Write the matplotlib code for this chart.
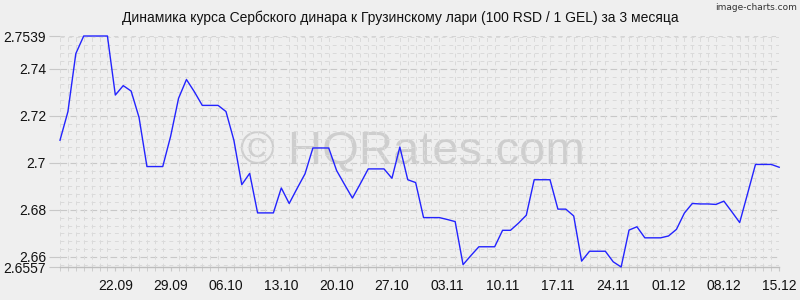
import matplotlib
matplotlib.use("Agg")
import matplotlib.pyplot as plt
import matplotlib.dates as mdates
from matplotlib.ticker import MultipleLocator
import pandas as pd

title = "Динамика курса Сербского динара к Грузинскому лари (100 RSD / 1 GEL) за 3 месяца"
start_date = "2025-09-15"
end_date = "2025-12-15"
rates = [
    2.7096, 2.7217, 2.7464, 2.7539, 2.7539, 2.7539, 2.7539, 2.7288, 2.7328, 2.7305,
    2.7193, 2.6984, 2.6984, 2.6984, 2.7113, 2.7274, 2.7354, 2.7302, 2.7244, 2.7244,
    2.7244, 2.7218, 2.7096, 2.6907, 2.6955, 2.6787, 2.6787, 2.6787, 2.6893, 2.6827,
    2.6891, 2.6953, 2.7063, 2.7063, 2.7063, 2.6967, 2.6908, 2.6850, 2.6911, 2.6974,
    2.6974, 2.6974, 2.6934, 2.7067, 2.6928, 2.6916, 2.6767, 2.6767, 2.6767, 2.6759,
    2.6750, 2.6567, 2.6606, 2.6643, 2.6643, 2.6643, 2.6713, 2.6713, 2.6743, 2.6777,
    2.6928, 2.6928, 2.6928, 2.6803, 2.6803, 2.6774, 2.6582, 2.6624, 2.6624, 2.6624,
    2.6579, 2.6557, 2.6714, 2.6728, 2.6681, 2.6681, 2.6681, 2.6689, 2.6717, 2.6786,
    2.6827, 2.6825, 2.6825, 2.6823, 2.6837, 2.6792, 2.6746, 2.6869, 2.6993, 2.6993,
    2.6993, 2.6981,
]
x_tick_dates = ["2025-09-22", "2025-09-29", "2025-10-06", "2025-10-13", "2025-10-20",
                "2025-10-27", "2025-11-03", "2025-11-10", "2025-11-17", "2025-11-24",
                "2025-12-01", "2025-12-08", "2025-12-15"]
x_tick_labels = ["22.09", "29.09", "06.10", "13.10", "20.10", "27.10", "03.11",
                 "10.11", "17.11", "24.11", "01.12", "08.12", "15.12"]
y_min, y_max = 2.6557, 2.7539
y_ticks = [2.6557, 2.66, 2.68, 2.70, 2.72, 2.74, 2.7539]
y_tick_labels = ["2.6557", "2.66", "2.68", "2.7", "2.72", "2.74", "2.7539"]
y_major_grid = [2.66, 2.68, 2.70, 2.72, 2.74]

dates = pd.date_range(start_date, end_date, freq="D")

plt.rcParams['font.family'] = ['Liberation Sans', 'DejaVu Sans']
bg = "#efefef"
fig = plt.figure(figsize=(8, 3), dpi=100, facecolor=bg)
ax = fig.add_axes([0.075, 0.11, 0.899, 0.77], facecolor=bg)

ax.set_xlim(dates[0], dates[-1])
ax.set_ylim(y_min, y_max)

# minor grid (daily vertical, fine horizontal)
ax.xaxis.set_minor_locator(mdates.DayLocator())
ax.yaxis.set_minor_locator(MultipleLocator(0.02 / 6))
ax.grid(which="minor", axis="both", color="#dadada", linestyle=(0, (4, 4)), linewidth=0.7, zorder=0)
for yv in y_major_grid:
    ax.axhline(yv, color="#c8c8c8", linestyle=(0, (6, 3)), linewidth=0.8, zorder=0.5)
ax.axhline(y_max, color="#d4d4d4", linestyle=(0, (4, 4)), linewidth=0.8, zorder=0.5)

ax.set_xticks(pd.to_datetime(x_tick_dates))
ax.set_xticklabels(x_tick_labels)
ax.set_yticks(y_ticks)
ax.set_yticklabels(y_tick_labels)
ax.tick_params(axis="x", which="both", length=3, color="#c8c8c8", pad=6, labelsize=10, labelcolor="#111111")
ax.tick_params(axis="y", which="major", length=8, color="#c8c8c8", pad=2, labelsize=10, labelcolor="#111111")
ax.tick_params(axis="y", which="minor", length=0)

for s in ["top", "right", "left"]:
    ax.spines[s].set_visible(False)
ax.spines["bottom"].set_color("#bdbdbd")
ax.spines["bottom"].set_linewidth(1.0)

ax.text(0.49, 0.5, "© HQRates.com", transform=ax.transAxes, ha="center", va="center",
        fontsize=34, color="#c4c4c4", alpha=0.75, zorder=1, family=['Liberation Sans', 'DejaVu Sans'])

ax.plot(dates, rates, color="#2323ff", linewidth=1.0, zorder=3, clip_on=False)

fig.text(0.5, 0.94, title, ha="center", va="center", fontsize=10, color="#111111")
fig.text(0.996, 0.975, "image-charts.com", ha="right", va="center", fontsize=6.5, color="#333333",
         family=['DejaVu Sans'])

fig.savefig("out.png", dpi=100, facecolor=bg)
